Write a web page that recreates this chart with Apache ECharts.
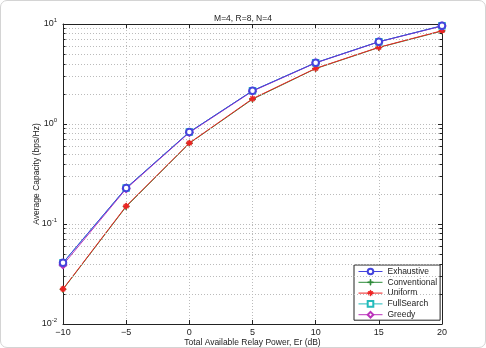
<!DOCTYPE html>
<html><head><meta charset="utf-8">
<script src="https://cdn.jsdelivr.net/npm/echarts@6/dist/echarts.min.js"></script>
<style>
html,body{margin:0;padding:0;background:#fff;}
#frame{position:absolute;left:0;top:0;width:484px;height:346px;border:1px solid #d4d4d4;border-radius:7px;}
#c{position:absolute;left:0;top:0;width:486px;height:348px;}
</style></head><body>
<div id="frame"></div>
<div id="c"></div>
<script>
const xValues = [-10, -5, 0, 5, 10, 15, 20];
const exhaustive = [0.041, 0.229, 0.83, 2.15, 4.1, 6.65, 9.6];
const conventional = [0.0222, 0.149, 0.64, 1.77, 3.58, 5.82, 8.5];
const uniform = [0.0224, 0.151, 0.645, 1.79, 3.6, 5.85, 8.57];
const fullSearch = [0.041, 0.229, 0.83, 2.15, 4.1, 6.65, 9.6];
const greedy = [0.039, 0.225, 0.82, 2.13, 4.08, 6.62, 9.55];
const xTicks = [-10, -5, 0, 5, 10, 15, 20];
const yDecades = [0.01, 0.1, 1, 10];
const titleText = 'M=4, R=8, N=4';
const xName = 'Total Available Relay Power, Er (dB)';
const yName = 'Average Capacity (bps/Hz)';

const FONT = 'Liberation Sans, Arial, sans-serif';
const minorVals = [];
for (let d = 0; d < yDecades.length - 1; d++) {
  for (let k = 2; k <= 9; k++) minorVals.push(+(yDecades[d] * k).toPrecision(3));
}
const xMin = xTicks[0], xMax = xTicks[xTicks.length - 1];
const plusPath = 'path://M4.4,0H5.6V10H4.4Z M0,4.4H10V5.6H0Z';
const starPath = 'path://M4.5,0H5.5V10H4.5Z M0,4.5H10V5.5H0Z M1.3,2L2,1.3L8.7,8L8,8.7Z M8,1.3L8.7,2L2,8.7L1.3,8Z';

function pairs(arr){ return xValues.map((x,i)=>[x,arr[i]]); }
function mk(name, data, color, symbol, size, z){
  return {name, type:'line', data: pairs(data), symbol, symbolSize:size, z,
    lineStyle:{color, width:1}, itemStyle:{color, borderColor:color, borderWidth:1}, emphasis:{disabled:true}, animation:false};
}
const supLabel = v => {
  const e = Math.round(Math.log10(v));
  return '{b|10}{s|' + e + '}';
};
const rich = {b:{fontSize:9, fontFamily:FONT, color:'#222'}, s:{fontSize:6, fontFamily:FONT, color:'#222', padding:[0,0,7,0]}};

const chart = echarts.init(document.getElementById('c'));
chart.setOption({
  animation:false,
  backgroundColor:'transparent',
  title:{text:titleText, left:'center', top:9, textStyle:{fontSize:8.5, fontWeight:'normal', fontFamily:FONT, color:'#222'}},
  grid:{left:63, right:44, top:24, bottom:24, show:false, containLabel:false, outerBoundsMode:'none'},
  legend:{
    orient:'vertical', left:354, top:265,
    backgroundColor:'#fff', borderColor:'#222', borderWidth:1, padding:[2,3,1,4],
    itemWidth:24, itemHeight:7, itemGap:1.8,
    lineStyle:{width:1},
    itemStyle:{borderWidth:1},
    textStyle:{fontSize:8.5, fontFamily:FONT, color:'#222'},
    data:['Exhaustive','Conventional','Uniform','FullSearch','Greedy']
  },
  xAxis:[{
    type:'value', min:xMin, max:xMax, interval:5,
    name:xName, nameLocation:'middle', nameGap:14, nameMoveOverlap:false,
    nameTextStyle:{fontSize:8.5, fontFamily:FONT, color:'#222'},
    axisLine:{onZero:false, lineStyle:{color:'#222', width:1}},
    axisTick:{inside:true, length:4, lineStyle:{color:'#222'}},
    axisLabel:{fontSize:9, fontFamily:FONT, color:'#222', margin:4, formatter:v=>String(v).replace('-','\u2212')},
    splitLine:{show:true, lineStyle:{color:'#bbb', type:[1,2], width:1}}
  },{
    type:'value', min:xMin, max:xMax, interval:5, position:'top',
    axisLine:{onZero:false, lineStyle:{color:'#222'}}, axisTick:{inside:true, length:4, lineStyle:{color:'#222'}},
    axisLabel:{show:false}, splitLine:{show:false}
  }],
  yAxis:[{
    type:'log', logBase:10, min:0.01, max:10,
    name:yName, nameLocation:'middle', nameGap:22, nameMoveOverlap:false,
    nameTextStyle:{fontSize:8.5, fontFamily:FONT, color:'#222'},
    axisLine:{onZero:false, lineStyle:{color:'#222', width:1}},
    axisTick:{inside:true, length:4, lineStyle:{color:'#222'}},
    axisLabel:{formatter:supLabel, rich, margin:6},
    splitLine:{show:true, lineStyle:{color:'#bbb', type:[1,2], width:1}}
  },{
    type:'log', logBase:10, min:0.01, max:10, position:'right',
    axisLine:{onZero:false, lineStyle:{color:'#222'}}, axisTick:{inside:true, length:4, lineStyle:{color:'#222'}},
    axisLabel:{show:false}, splitLine:{show:false}
  }],
  series:[
    {type:'line', data:[], silent:true, animation:false,
      markLine:{silent:true, symbol:'none', label:{show:false}, animation:false,
        lineStyle:{color:'#bbb', type:[1,2], width:1},
        data: minorVals.map(v=>({yAxis:v}))}},
    {type:'line', data:[], silent:true, animation:false,
      markLine:{silent:true, symbol:'none', label:{show:false}, animation:false,
        lineStyle:{color:'#222', type:'solid', width:1},
        data: minorVals.map(v=>[{coord:[xMin,v]},{coord:[xMin+0.2,v]}])
          .concat(minorVals.map(v=>[{coord:[xMax-0.2,v]},{coord:[xMax,v]}]))}},
    mk('Conventional', conventional, '#2e8b3a', plusPath, 6, 3),
    mk('Uniform', uniform, '#ee2222', starPath, 6, 4),
    mk('FullSearch', fullSearch, '#22bbbb', 'emptyRect', 5.5, 5),
    mk('Greedy', greedy, '#bb33bb', 'emptyDiamond', 6.5, 6),
    mk('Exhaustive', exhaustive, '#4444dd', 'emptyCircle', 6.5, 7)
  ]
});
</script>
</body></html>
